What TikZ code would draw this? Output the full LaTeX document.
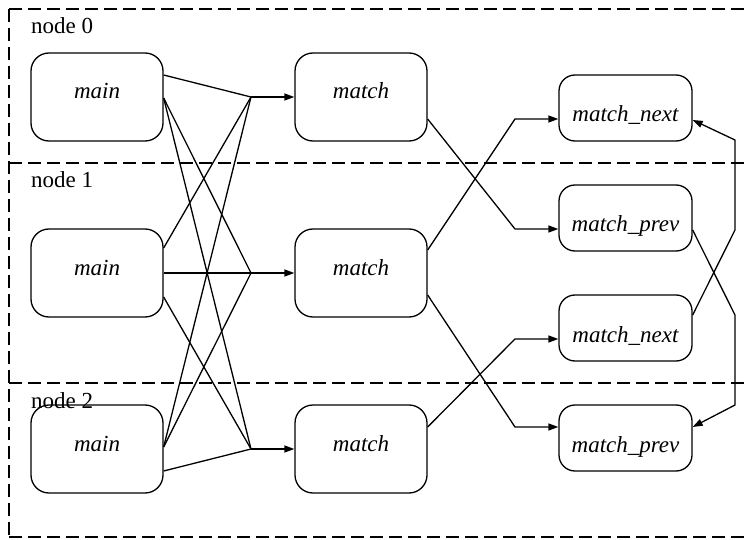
\documentclass[tikz,border=0pt]{standalone}
\usepackage{fontspec}
\setmainfont{Liberation Serif}
\usetikzlibrary{arrows.meta}
\begin{document}
\begin{tikzpicture}[x=1pt,y=-1pt,
  box/.style={draw, line width=1.3pt, rounded corners=18pt, inner sep=0pt,
    minimum width=132pt, minimum height=88pt,
    font=\fontsize{23}{27}\selectfont\itshape, text height=12pt, text depth=8pt},
  rbox/.style={box, rounded corners=16pt, minimum width=133pt, minimum height=66pt,
    text height=34pt, text depth=6pt},
  edge/.style={line width=1.3pt},
  arr/.style={edge, -{Triangle[length=10pt,width=7pt]}},
  frame/.style={line width=1.2pt, dash pattern=on 13pt off 6pt},
  clabel/.style={anchor=base west, inner sep=0pt, font=\fontsize{23}{27}\selectfont}
]
\useasboundingbox (0,0) rectangle (747,540);
% clusters
\draw[frame] (9,9) -- (752,9);
\draw[frame] (9,163) -- (752,163);
\draw[frame] (9,383) -- (752,383);
\draw[frame] (9,537) -- (752,537);
\draw[frame] (9,9) -- (9,537);
\node[clabel] (l0) at (31,33.5) {node 0};
\node[clabel] (l1) at (31,188) {node 1};
\node[clabel] (l2) at (31,408) {node 2};
% nodes
\node[box] (main0) at (97,97) {main};
\node[box] (main1) at (97,273) {main};
\node[box] (main2) at (97,449) {main};
\node[box] (match0) at (361,97) {match};
\node[box] (match1) at (361,273) {match};
\node[box] (match2) at (361,449) {match};
\node[rbox] (next0) at (625.5,108) {match\_next};
\node[rbox] (prev1) at (625.5,218) {match\_prev};
\node[rbox] (next1) at (625.5,328) {match\_next};
\node[rbox] (prev2) at (625.5,438) {match\_prev};
% junctions
\coordinate (j0) at (251,97);
\coordinate (j1) at (251,273);
\coordinate (j2) at (251,449);
\coordinate (b1) at (515,229);
\coordinate (b2) at (515,119);
\coordinate (b3) at (515,427);
\coordinate (b4) at (515,339);
\coordinate (c1) at (735,315);
\coordinate (c2) at (735,405);
\coordinate (c3) at (735,230);
\coordinate (c4) at (735,140);
% main -> match
\draw[edge] ([yshift=22pt]main0.east) -- (j0);
\draw[edge] ([yshift=-1pt]main0.east) -- (j1);
\draw[edge] ([yshift=-1pt]main0.east) -- (j2);
\draw[edge] ([yshift=25pt]main1.east) -- (j0);
\draw[edge] (main1.east) -- (j1);
\draw[edge] ([yshift=-24pt]main1.east) -- (j2);
\draw[edge] ([yshift=2pt]main2.east) -- (j0);
\draw[edge] ([yshift=2pt]main2.east) -- (j1);
\draw[edge] ([yshift=-22pt]main2.east) -- (j2);
\draw[arr] (j0) -- (match0.west);
\draw[arr] (j1) -- (match1.west);
\draw[arr] (j2) -- (match2.west);
% match -> next/prev
\draw[arr] ([yshift=-22pt]match0.east) -- (b1) -- (b1 -| prev1.west);
\draw[arr] ([yshift=23pt]match1.east) -- (b2) -- (b2 -| next0.west);
\draw[arr] ([yshift=-22pt]match1.east) -- (b3) -- (b3 -| prev2.west);
\draw[arr] ([yshift=22pt]match2.east) -- (b4) -- (b4 -| next1.west);
% prev -> prev, next -> next
\draw[arr] ([yshift=-12pt]prev1.east) -- (c1) -- (c2) -- ([yshift=11pt]prev2.east);
\draw[arr] ([yshift=13pt]next1.east) -- (c3) -- (c4) -- ([yshift=-12pt]next0.east);
\end{tikzpicture}
\end{document}
